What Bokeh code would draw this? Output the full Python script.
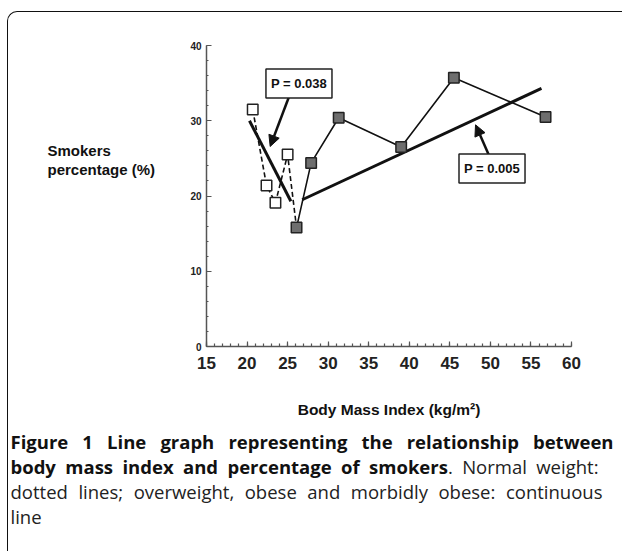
from bokeh.plotting import figure
from bokeh.models import Range1d, FixedTicker, Label, Arrow, NormalHead, Div
from bokeh.layouts import column, row
from bokeh.embed import file_html
from bokeh.resources import INLINE

# ---- data ----
normal_bmi = [20.7, 22.4, 23.5, 25.0]
normal_pct = [31.5, 21.4, 19.1, 25.5]
over_bmi = [26.1, 27.9, 31.3, 39.0, 45.5, 56.8]
over_pct = [15.8, 24.4, 30.4, 26.5, 35.7, 30.5]
fit_normal_bmi = [20.3, 25.4]
fit_normal_pct = [30.0, 19.3]
fit_over_bmi = [26.8, 56.3]
fit_over_pct = [19.5, 34.3]
p_texts = ["P = 0.038", "P = 0.005"]
p_bmi = [26.4, 50.2]
p_pct = [34.95, 23.65]
arrow_from_bmi = [25.23, 49.89]
arrow_from_pct = [33.36, 25.25]
arrow_to_bmi = [22.85, 48.17]
arrow_to_pct = [26.58, 29.46]
x_ticks = [15, 20, 25, 30, 35, 40, 45, 50, 55, 60]
x_minor = list(range(15, 61))
y_ticks = [0, 10, 20, 30, 40]
y_minor = list(range(0, 41, 2))
x_title = "Body Mass Index (kg/m²)"
y_title_lines = ["Smokers", "percentage (%)"]
caption_lines = [
    ("Figure 1 Line graph representing the relationship between", ""),
    ("body mass index and percentage of smokers", ". Normal weight:"),
    ("", "dotted lines; overweight, obese and morbidly obese: continuous"),
    ("", "line"),
]

FONT = "Liberation Sans"
BORDER = "1.5px solid #111"

# ---- top strip: upper edge of the rounded frame ----
top_div = Div(width=625, height=40, margin=0, text=(
    '<div style="padding-top:11px; width:625px; height:40px; box-sizing:border-box;">'
    f'<div style="margin-left:7px; width:615px; height:29px; box-sizing:border-box; border-top:{BORDER}; '
    f'border-left:{BORDER}; border-top-left-radius:10px;"></div></div>'))

# ---- left strip: frame edge + horizontal y title ----
ytitle_div = Div(width=168, height=388, margin=0, text=(
    f'<div style="position:relative; margin-left:7px; width:161px; height:388px; box-sizing:border-box; '
    f'border-left:{BORDER};">'
    f'<div style="position:absolute; left:39.5px; top:101px; white-space:nowrap; font-family:\'{FONT}\'; '
    'font-weight:bold; font-size:15px; line-height:19px; color:#111;">'
    + "<br>".join(y_title_lines) + '</div></div>'))

# ---- the chart ----
p = figure(width=457, height=388, output_backend="svg", toolbar_location=None,
           x_range=Range1d(15, 60), y_range=Range1d(0, 40), margin=0,
           min_border_left=38, min_border_right=54, min_border_top=5, min_border_bottom=82)
p.outline_line_color = None
p.grid.grid_line_color = None
p.background_fill_color = None
p.border_fill_color = "white"

for ax in (p.xaxis, p.yaxis):
    ax.axis_line_color = "#555555"
    ax.axis_line_width = 1.5
    ax.major_tick_line_color = "#555555"
    ax.minor_tick_line_color = "#555555"
    ax.major_tick_line_width = 1.2
    ax.minor_tick_line_width = 1.2
    ax.major_tick_out = 0
    ax.minor_tick_out = 0
    ax.major_label_text_font = FONT
    ax.major_label_text_font_style = "bold"
    ax.major_label_text_color = "#222222"

p.xaxis.ticker = FixedTicker(ticks=x_ticks, minor_ticks=x_minor)
p.xaxis.major_tick_in = 5
p.xaxis.minor_tick_in = 3
p.xaxis.major_label_text_font_size = "17px"
p.xaxis.major_label_standoff = 10
p.xaxis.axis_label = x_title
p.xaxis.axis_label_text_font = FONT
p.xaxis.axis_label_text_font_style = "bold"
p.xaxis.axis_label_text_font_size = "15.5px"
p.xaxis.axis_label_text_color = "#111111"
p.xaxis.axis_label_standoff = 29

p.yaxis.ticker = FixedTicker(ticks=y_ticks, minor_ticks=y_minor)
p.yaxis.major_tick_in = 5
p.yaxis.minor_tick_in = 2
p.yaxis.major_label_text_font_size = "10px"
p.yaxis.major_label_standoff = 5

# data lines
p.line(normal_bmi + [over_bmi[0]], normal_pct + [over_pct[0]],
       line_color="#111111", line_width=1.6, line_dash="5 3")
p.line(over_bmi, over_pct, line_color="#111111", line_width=1.6)

# regression lines
p.line(fit_normal_bmi, fit_normal_pct, line_color="#111111", line_width=3)
p.line(fit_over_bmi, fit_over_pct, line_color="#111111", line_width=3)

# markers
p.scatter(normal_bmi, normal_pct, marker="square", size=10.5, fill_color="white",
          line_color="#222222", line_width=1.5)
p.scatter(over_bmi, over_pct, marker="square", size=10.5, fill_color="#6e6e6e",
          line_color="#222222", line_width=1.5)

# p-value boxes and arrows
for i in range(len(p_texts)):
    p.add_layout(Arrow(x_start=arrow_from_bmi[i], y_start=arrow_from_pct[i],
                       x_end=arrow_to_bmi[i], y_end=arrow_to_pct[i],
                       line_color="#111111", line_width=2.5,
                       end=NormalHead(size=11, fill_color="#111111", line_color="#111111")))
    p.add_layout(Label(x=p_bmi[i], y=p_pct[i], text=p_texts[i], text_font=FONT,
                       text_font_style="bold", text_font_size="13px", text_color="#111111",
                       text_align="center", text_baseline="middle",
                       background_fill_color="white", border_line_color="#222222",
                       border_line_width=1.5, padding=(5, 7)))

# ---- caption ----
line_widths = [603, 588, 592, None]
parts = []
for (bold, normal), w in zip(caption_lines, line_widths):
    if w is None:
        style = "white-space:nowrap;"
    else:
        style = f"width:{w}px; white-space:nowrap; text-align:justify; text-align-last:justify;"
    inner = (f'<b style="color:#111">{bold}</b>' if bold else "") + normal
    parts.append(f'<div style="{style}">{inner}</div>')
caption_div = Div(width=625, height=123, margin=0, text=(
    f'<div style="margin-left:7px; width:618px; height:123px; box-sizing:border-box; border-left:{BORDER}; '
    'padding-left:2.5px; padding-top:0.5px; font-family:\'Open Sans\'; font-size:18.5px; '
    'line-height:25px; color:#222;">' + "".join(parts) + '</div>'))

layout = column(top_div, row(ytitle_div, p, spacing=0), caption_div, spacing=0)

open("out.html", "w").write(file_html(layout, INLINE))
